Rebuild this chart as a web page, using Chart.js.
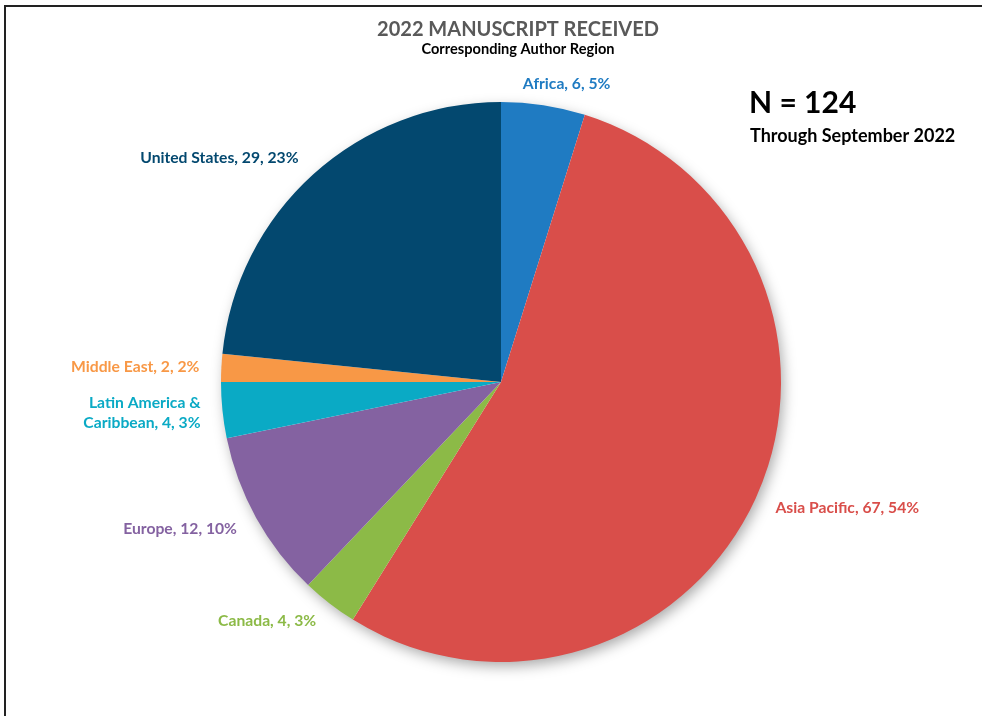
<!DOCTYPE html>
<html>
<head>
<meta charset="utf-8">
<script src="https://cdn.jsdelivr.net/npm/chart.js@4"></script>
<style>
  html, body { margin: 0; padding: 0; background: #fff; overflow: hidden; width: 982px; height: 716px; }
  #frame { position: absolute; left: 4px; top: 5px; width: 1200px; height: 900px;
           border-left: 2px solid #222; border-top: 2px solid #222; }
  #wrap { position: absolute; left: 0; top: 0; width: 1036px; height: 716px; }
</style>
</head>
<body>
<div id="frame"></div>
<div id="wrap"><canvas id="pie-chart"></canvas></div>
<script>
"use strict";

const regions = ["Africa", "Asia Pacific", "Canada", "Europe", "Latin America & Caribbean", "Middle East", "United States"];
const labelLines = [["Africa, 6, 5%"], ["Asia Pacific, 67, 54%"], ["Canada, 4, 3%"], ["Europe, 12, 10%"],
  ["Latin America &", "Caribbean, 4, 3%"], ["Middle East, 2, 2%"], ["United States, 29, 23%"]];
const manuscripts = [6, 67, 4, 12, 4, 2, 29];
const colors = ["#1F7BC2", "#D94E4A", "#8CBA47", "#8462A1", "#0AAAC5", "#F89846", "#03486F"];

const FONT = "Lato, 'Open Sans', sans-serif";

// soft drop shadow under the whole pie
const pieShadow = {
  id: "pieShadow",
  beforeDatasetsDraw(chart) {
    const arc = chart.getDatasetMeta(0).data[0];
    if (!arc) return;
    const ctx = chart.ctx;
    ctx.save();
    ctx.shadowColor = "rgba(0,0,0,0.35)";
    ctx.shadowBlur = 14;
    ctx.shadowOffsetX = 3;
    ctx.shadowOffsetY = 5;
    ctx.fillStyle = "#fff";
    ctx.beginPath();
    ctx.arc(arc.x, arc.y, arc.outerRadius - 1, 0, Math.PI * 2);
    ctx.fill();
    ctx.restore();
  },
};

// data labels outside each slice
const sliceLabels = {
  id: "sliceLabels",
  afterDatasetsDraw(chart) {
    const ctx = chart.ctx;
    ctx.save();
    ctx.font = "bold 15.7px " + FONT;
    ctx.textBaseline = "middle";
    ctx.textAlign = "left";
    chart.getDatasetMeta(0).data.forEach((arc, i) => {
      const mid = (arc.startAngle + arc.endAngle) / 2;
      const r = arc.outerRadius + 22;
      const x = arc.x + Math.cos(mid) * r;
      const y = arc.y + Math.sin(mid) * r;
      const lines = labelLines[i];
      const w = Math.max(...lines.map((l) => ctx.measureText(l).width));
      let frac = 0.5 - Math.cos(mid) * 1.5;
      frac = Math.min(1, Math.max(0, frac));
      const left = x - frac * w;
      ctx.fillStyle = colors[i];
      lines.forEach((l, k) => {
        const lw = ctx.measureText(l).width;
        const lx = frac >= 1 ? left + w - lw : left;
        const ly = y + (k - (lines.length - 1) / 2) * 20;
        ctx.fillText(l, lx, ly);
      });
    });
    ctx.restore();
  },
};

// titles and the N = 124 note
const headings = {
  id: "headings",
  afterDraw(chart) {
    const ctx = chart.ctx;
    const total = manuscripts.reduce((a, b) => a + b, 0);
    const cx = chart.width / 2;
    ctx.save();
    ctx.textBaseline = "middle";
    ctx.textAlign = "center";
    ctx.fillStyle = "#595959";
    ctx.font = "bold 20px " + FONT;
    ctx.fillText("2022 MANUSCRIPT RECEIVED", cx, 30);
    ctx.fillStyle = "#000";
    ctx.font = "bold 14.6px " + FONT;
    ctx.fillText("Corresponding Author Region", cx, 49);
    ctx.textAlign = "left";
    ctx.font = "bold 30px " + FONT;
    ctx.fillText("N = " + total, 749, 103);
    ctx.font = "bold 18px " + FONT;
    ctx.fillText("Through September 2022", 750, 136);
    ctx.restore();
  },
};

new Chart(document.getElementById("pie-chart"), {
  type: "pie",
  data: {
    labels: regions,
    datasets: [
      {
        data: manuscripts,
        backgroundColor: colors,
        borderWidth: 0,
      },
    ],
  },
  options: {
    responsive: true,
    maintainAspectRatio: false,
    animation: false,
    layout: { padding: { left: 221, right: 255, top: 102, bottom: 54 } },
    plugins: {
      legend: { display: false },
      tooltip: { enabled: false },
    },
  },
  plugins: [pieShadow, sliceLabels, headings],
});
</script>
</body>
</html>
